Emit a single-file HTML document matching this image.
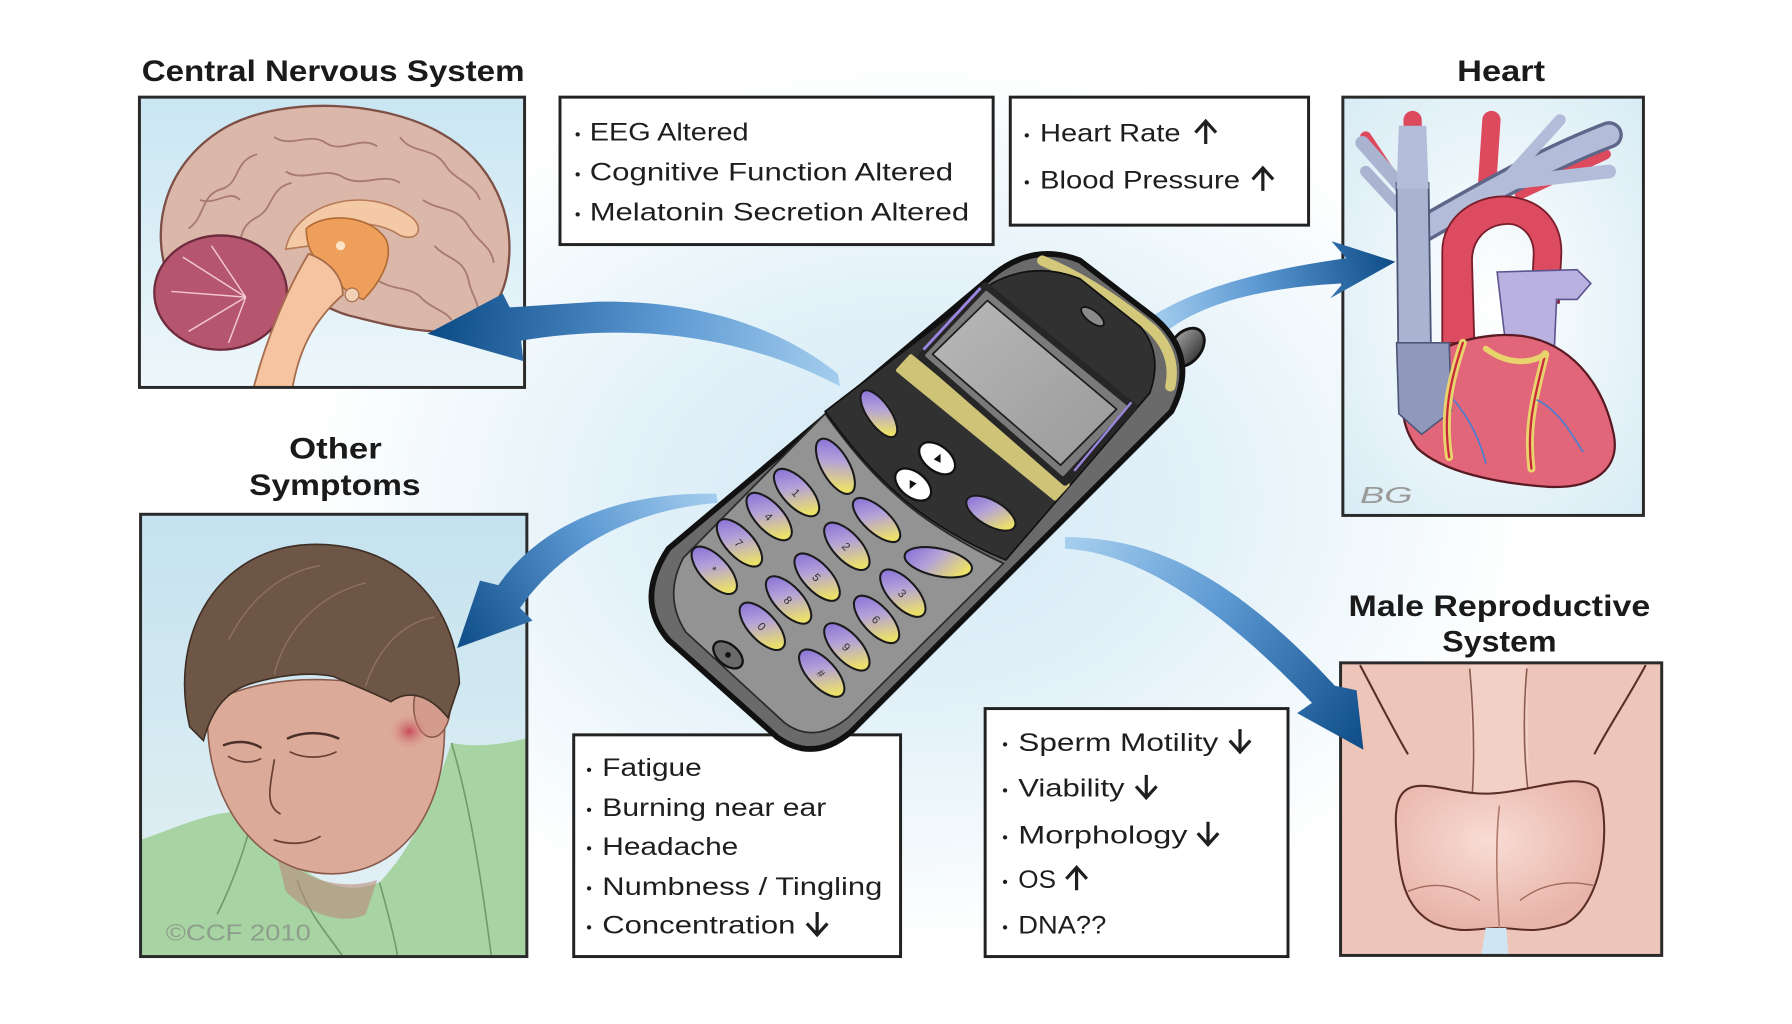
<!DOCTYPE html>
<html><head><meta charset="utf-8">
<style>
html,body{margin:0;padding:0;background:#fff;}
svg{display:block}
text{font-family:"Liberation Sans","DejaVu Sans",sans-serif;}
.t{font-size:22px;fill:#1e1e1e;}
.h{font-size:26px;font-weight:bold;fill:#1a1a1a;}
.b{font-size:14px;fill:#1e1e1e;}
.arw{fill:none;stroke:#1e1e1e;stroke-width:2.8;stroke-linecap:butt;stroke-linejoin:miter;}
.box{fill:#fff;stroke:#222;stroke-width:2.6;}
.frame{fill:none;stroke:#2a2a2a;stroke-width:2.6;}
.key{fill:url(#kg);stroke:#1a1a1a;stroke-width:1.8;}
.kn{font-size:10px;fill:#333;}
</style></head><body>
<svg width="1792" height="1024" viewBox="0 0 1568 896" xmlns="http://www.w3.org/2000/svg">
<defs>
<radialGradient id="bg" gradientUnits="userSpaceOnUse" cx="800" cy="440" r="540" gradientTransform="translate(800 440) scale(1 0.72) translate(-800 -440)">
<stop offset="0" stop-color="#d2e8f5"/>
<stop offset="0.5" stop-color="#e4f2f9"/>
<stop offset="1" stop-color="#ffffff"/>
</radialGradient>
<linearGradient id="a1" gradientUnits="userSpaceOnUse" x1="735" y1="330" x2="380" y2="290">
<stop offset="0" stop-color="#a4cdee"/><stop offset="0.45" stop-color="#5b98d2"/><stop offset="1" stop-color="#0e4c88"/></linearGradient>
<linearGradient id="a2" gradientUnits="userSpaceOnUse" x1="1010" y1="285" x2="1220" y2="229">
<stop offset="0" stop-color="#a4cdee"/><stop offset="0.45" stop-color="#5b98d2"/><stop offset="1" stop-color="#0e4c88"/></linearGradient>
<linearGradient id="a3" gradientUnits="userSpaceOnUse" x1="628" y1="436" x2="400" y2="567">
<stop offset="0" stop-color="#a4cdee"/><stop offset="0.45" stop-color="#5b98d2"/><stop offset="1" stop-color="#0e4c88"/></linearGradient>
<linearGradient id="a4" gradientUnits="userSpaceOnUse" x1="935" y1="476" x2="1193" y2="656">
<stop offset="0" stop-color="#a4cdee"/><stop offset="0.45" stop-color="#5b98d2"/><stop offset="1" stop-color="#0e4c88"/></linearGradient>
<linearGradient id="kg" x1="0" y1="0" x2="1" y2="0.3">
<stop offset="0" stop-color="#7e66d8"/><stop offset="0.5" stop-color="#b4a2d8"/><stop offset="1" stop-color="#ebe06a"/></linearGradient>
<linearGradient id="brainbg" x1="0" y1="0" x2="0" y2="1">
<stop offset="0" stop-color="#c9e6f2"/><stop offset="1" stop-color="#eef7fb"/></linearGradient>
<linearGradient id="manbg" x1="0" y1="0" x2="0" y2="1">
<stop offset="0" stop-color="#c4e2ef"/><stop offset="1" stop-color="#e6f2f4"/></linearGradient>
<radialGradient id="heartbg" cx="0.5" cy="0.5" r="0.7">
<stop offset="0" stop-color="#ffffff"/><stop offset="1" stop-color="#d8ecf5"/></radialGradient>
<radialGradient id="cheek" cx="0.5" cy="0.5" r="0.5">
<stop offset="0" stop-color="#c8485a"/><stop offset="1" stop-color="#d99c8e" stop-opacity="0"/></radialGradient>
<linearGradient id="scr" x1="0" y1="0" x2="1" y2="1">
<stop offset="0" stop-color="#b8b8b8"/><stop offset="1" stop-color="#9a9a9a"/></linearGradient>
<linearGradient id="ant" x1="0" y1="0" x2="1" y2="0">
<stop offset="0" stop-color="#9a9a9a"/><stop offset="1" stop-color="#3c3c3c"/></linearGradient>
<radialGradient id="scrot" cx="0.45" cy="0.4" r="0.6">
<stop offset="0" stop-color="#f8dcd4"/><stop offset="1" stop-color="#e8b3a8"/></radialGradient>
</defs>

<rect x="0" y="0" width="1568" height="896" fill="#fff"/>
<rect x="0" y="0" width="1568" height="896" fill="url(#bg)"/>

<!-- Titles -->
<text class="h" x="124" y="71" textLength="335" lengthAdjust="spacingAndGlyphs">Central Nervous System</text>
<text class="h" x="1275" y="71" textLength="77" lengthAdjust="spacingAndGlyphs">Heart</text>
<text class="h" x="253" y="401" textLength="81" lengthAdjust="spacingAndGlyphs">Other</text>
<text class="h" x="218" y="433" textLength="150" lengthAdjust="spacingAndGlyphs">Symptoms</text>
<text class="h" x="1180" y="539" textLength="264" lengthAdjust="spacingAndGlyphs">Male Reproductive</text>
<text class="h" x="1262" y="570" textLength="100" lengthAdjust="spacingAndGlyphs">System</text>

<!-- ===== Brain box ===== -->
<g>
<rect x="122" y="85" width="337" height="254" fill="url(#brainbg)"/>
<path d="M150,250 C128,200 145,140 200,110 C250,84 335,88 385,116 C432,142 452,190 444,238 C438,275 410,292 380,290 C350,288 330,282 305,276 C290,272 275,262 262,258 C230,255 200,252 172,262 Z" fill="#dbb7a9" stroke="#7d4f45" stroke-width="2"/>
<g fill="none" stroke="#a87a70" stroke-width="1.6">
<path d="M165,200 C180,190 175,170 195,165 C210,160 205,140 225,135"/>
<path d="M200,230 C215,215 205,200 225,190 C240,182 235,165 255,160"/>
<path d="M240,120 C255,130 270,115 285,125 C300,135 315,118 330,128"/>
<path d="M250,150 C265,160 285,145 300,155 C318,165 335,150 350,160"/>
<path d="M350,120 C360,135 380,128 390,145 C398,158 415,160 420,175"/>
<path d="M370,175 C385,185 400,180 410,198 C418,212 430,215 432,230"/>
<path d="M380,215 C392,228 405,225 410,245 C412,258 420,265 418,275"/>
<path d="M330,245 C345,255 360,250 370,262 C378,270 390,272 395,280"/>
<path d="M175,175 C190,180 200,165 210,175"/>
</g>
<path d="M250,218 C258,178 320,160 360,190 C372,200 365,212 350,206 C330,192 290,190 272,215 Z" fill="#f4caa6" stroke="#b77a55" stroke-width="1.4"/>
<path d="M268,200 C285,185 325,188 338,210 C345,228 330,250 318,262 C305,258 295,248 290,238 C278,232 268,220 268,200 Z" fill="#eea05a" stroke="#b06a35" stroke-width="1.4"/>
<circle cx="298" cy="215" r="4" fill="#fbe3c8"/>
<ellipse cx="193" cy="256" rx="58" ry="50" fill="#b5566e" stroke="#6f2b3e" stroke-width="2"/>
<g stroke="#f1c6d2" stroke-width="1.3" fill="none">
<path d="M215,260 L160,225 M215,260 L150,255 M215,260 L165,290 M215,260 L200,300 M215,260 L185,215"/>
</g>
<path d="M270,222 C250,255 232,300 222,339 L256,339 C262,305 275,280 300,258 C300,245 292,230 270,222 Z" fill="#f6c4a0" stroke="#a66c4c" stroke-width="1.6"/>
<circle cx="308" cy="258" r="6" fill="#f2d0b8" stroke="#a66c4c" stroke-width="1"/>
<rect x="122" y="85" width="337" height="254" class="frame"/>
</g>

<!-- ===== EEG box ===== -->
<rect class="box" x="490" y="85" width="379" height="129"/>
<text class="b" x="503" y="122">•</text>
<text class="t" x="516" y="123" textLength="139" lengthAdjust="spacingAndGlyphs">EEG Altered</text>
<text class="b" x="503" y="157">•</text>
<text class="t" x="516" y="158" textLength="318" lengthAdjust="spacingAndGlyphs">Cognitive Function Altered</text>
<text class="b" x="503" y="192">•</text>
<text class="t" x="516" y="193" textLength="332" lengthAdjust="spacingAndGlyphs">Melatonin Secretion Altered</text>

<!-- ===== Heart text box ===== -->
<rect class="box" x="884" y="85" width="261" height="112"/>
<text class="b" x="896" y="123">•</text>
<text class="t" x="910" y="124" textLength="123" lengthAdjust="spacingAndGlyphs">Heart Rate</text>
<path class="arw" d="M1055,126 L1055,106 M1046,116 L1055,106 L1064,116"/>
<text class="b" x="896" y="164">•</text>
<text class="t" x="910" y="165" textLength="175" lengthAdjust="spacingAndGlyphs">Blood Pressure</text>
<path class="arw" d="M1105,167 L1105,147 M1096,157 L1105,147 L1114,157"/>

<!-- ===== Heart image ===== -->
<g>
<rect x="1175" y="85" width="263" height="366" fill="url(#heartbg)"/>
<g stroke-linecap="round" fill="none">
<path d="M1215,150 L1195,120" stroke="#dd4a5e" stroke-width="10"/>
<path d="M1238,190 L1236,105" stroke="#dd4a5e" stroke-width="16"/>
<path d="M1300,180 L1305,105" stroke="#dd4a5e" stroke-width="16"/>
<path d="M1330,170 L1405,135" stroke="#dd4a5e" stroke-width="9"/>
<path d="M1232,170 L1192,125" stroke="#aab4d0" stroke-width="12"/>
<path d="M1232,190 L1195,150" stroke="#aab4d0" stroke-width="10"/>
<path d="M1246,200 C1290,175 1350,140 1408,118" stroke="#5e6689" stroke-width="24"/>
<path d="M1246,200 C1290,175 1350,140 1408,118" stroke="#b3bcd8" stroke-width="18"/>
<path d="M1320,160 L1408,150" stroke="#b3bcd8" stroke-width="12"/>
<path d="M1320,155 L1365,105" stroke="#b3bcd8" stroke-width="10"/>
</g>
<path d="M1222,160 L1250,160 L1252,300 L1266,300 L1268,365 L1240,378 L1224,360 Z" fill="#aab4d0" stroke="#4e5678" stroke-width="1.6"/>
<path d="M1224,110 L1248,110 L1250,165 L1222,165 Z" fill="#b3bcd8"/>
<path d="M1262,300 L1262,220 C1262,190 1290,170 1320,172 C1350,175 1368,195 1366,225 L1364,265 L1340,265 L1342,222 C1342,205 1330,195 1318,196 C1300,197 1288,210 1288,228 L1290,300 Z" fill="#dc4b60" stroke="#7a1e2c" stroke-width="1.6"/>
<path d="M1310,238 L1380,236 L1392,248 L1380,262 L1362,262 L1360,306 L1318,306 Z" fill="#b9b1e0" stroke="#5c5490" stroke-width="1.4"/>
<path d="M1232,330 C1252,300 1300,290 1332,294 C1372,300 1402,332 1412,380 C1418,410 1395,428 1355,426 C1310,423 1262,413 1240,392 C1226,374 1224,350 1232,330 Z" fill="#e2667a" stroke="#5a1a24" stroke-width="2"/>
<path d="M1222,300 L1268,300 L1270,360 L1244,380 L1224,362 Z" fill="#9099bb" stroke="#4e5678" stroke-width="1.4"/>
<g fill="none" stroke-linecap="round">
<path d="M1280,300 C1270,330 1262,360 1268,400" stroke="#e9d36c" stroke-width="7"/>
<path d="M1280,300 C1270,330 1262,360 1268,400" stroke="#c8283a" stroke-width="2"/>
<path d="M1352,310 C1345,340 1335,370 1340,410" stroke="#e9d36c" stroke-width="7"/>
<path d="M1352,310 C1345,340 1335,370 1340,410" stroke="#c8283a" stroke-width="2"/>
<path d="M1300,305 C1320,320 1340,318 1352,310" stroke="#e9d36c" stroke-width="5"/>
<path d="M1345,350 C1365,360 1375,380 1385,395" stroke="#4a7fd0" stroke-width="1.5"/>
<path d="M1272,350 C1285,365 1295,385 1300,405" stroke="#4a7fd0" stroke-width="1.5"/>
</g>
<text x="1190" y="440" font-size="20" font-style="italic" fill="#9a9a9a" textLength="46" lengthAdjust="spacingAndGlyphs">BG</text>
<rect x="1175" y="85" width="263" height="366" class="frame"/>
</g>

<!-- ===== Man box ===== -->
<g>
<rect x="123" y="450" width="338" height="387" fill="url(#manbg)"/>
<path d="M123,735 C160,722 195,705 222,712 C250,755 290,790 332,772 C362,742 380,695 395,650 C420,655 445,650 461,646 L461,837 L123,837 Z" fill="#a8d3a2"/>
<g fill="none" stroke="#6f9a6c" stroke-width="1.4">
<path d="M222,712 C215,740 205,770 190,800"/>
<path d="M332,772 C340,800 345,820 348,837"/>
<path d="M260,770 C270,800 285,815 300,837"/>
<path d="M395,650 C410,700 420,760 430,837"/>
</g>
<path d="M240,740 C260,770 300,780 330,770 L320,800 C300,810 270,800 250,780 Z" fill="#b98a7c" opacity="0.6"/>
<path d="M182,618 C178,680 205,740 260,760 C300,772 340,760 365,725 C385,695 392,660 388,608 C360,600 320,597 290,595 C250,593 205,600 182,618 Z" fill="#dcaa98" stroke="#8a5a4c" stroke-width="1.4"/>
<ellipse cx="378" cy="618" rx="16" ry="27" fill="#d49c8c" stroke="#8a5a4c" stroke-width="1.4"/>
<ellipse cx="358" cy="640" rx="18" ry="16" fill="url(#cheek)"/>
<path d="M166,636 C148,560 185,486 262,477 C332,470 398,512 402,598 L392,628 C374,606 356,604 342,614 C322,604 305,598 292,592 C268,587 240,592 220,598 C200,604 186,618 178,648 Z" fill="#6e5646" stroke="#3e2e24" stroke-width="1.4"/>
<g fill="none" stroke="#8d7262" stroke-width="1.2">
<path d="M200,560 C220,520 250,500 280,495"/>
<path d="M240,590 C250,550 280,520 320,510"/>
<path d="M320,600 C330,570 350,545 380,540"/>
</g>
<g fill="none" stroke="#4a3028" stroke-width="2.2" stroke-linecap="round">
<path d="M196,652 C205,648 218,648 228,654"/>
<path d="M252,646 C265,640 282,640 296,646"/>
</g>
<g fill="none" stroke="#6a4034" stroke-width="1.5" stroke-linecap="round">
<path d="M200,662 C210,668 220,668 228,664"/>
<path d="M254,658 C266,664 282,664 294,658"/>
<path d="M240,665 C236,690 232,705 245,712"/>
<path d="M240,735 C255,740 270,738 280,732"/>
</g>
<text x="145" y="823" font-size="20" fill="#8e9e8c" textLength="127" lengthAdjust="spacingAndGlyphs">©CCF 2010</text>
<rect x="123" y="450" width="338" height="387" class="frame"/>
</g>

<!-- ===== Fatigue box ===== -->
<rect class="box" x="502" y="643" width="286" height="194"/>
<text class="b" x="513" y="678">•</text>
<text class="t" x="527" y="679" textLength="87" lengthAdjust="spacingAndGlyphs">Fatigue</text>
<text class="b" x="513" y="713">•</text>
<text class="t" x="527" y="714" textLength="196" lengthAdjust="spacingAndGlyphs">Burning near ear</text>
<text class="b" x="513" y="747">•</text>
<text class="t" x="527" y="748" textLength="119" lengthAdjust="spacingAndGlyphs">Headache</text>
<text class="b" x="513" y="782">•</text>
<text class="t" x="527" y="783" textLength="245" lengthAdjust="spacingAndGlyphs">Numbness / Tingling</text>
<text class="b" x="513" y="816">•</text>
<text class="t" x="527" y="817" textLength="169" lengthAdjust="spacingAndGlyphs">Concentration</text>
<path class="arw" d="M715,798 L715,818 M706,808 L715,818 L724,808"/>

<!-- ===== Sperm box ===== -->
<rect class="box" x="862" y="620" width="265" height="217"/>
<text class="b" x="877" y="656">•</text>
<text class="t" x="891" y="657" textLength="175" lengthAdjust="spacingAndGlyphs">Sperm Motility</text>
<path class="arw" d="M1085,638 L1085,658 M1076,648 L1085,658 L1094,648"/>
<text class="b" x="877" y="696">•</text>
<text class="t" x="891" y="697" textLength="93" lengthAdjust="spacingAndGlyphs">Viability</text>
<path class="arw" d="M1003,678 L1003,698 M994,688 L1003,698 L1012,688"/>
<text class="b" x="877" y="737">•</text>
<text class="t" x="891" y="738" textLength="148" lengthAdjust="spacingAndGlyphs">Morphology</text>
<path class="arw" d="M1057,719 L1057,739 M1048,729 L1057,739 L1066,729"/>
<text class="b" x="877" y="776">•</text>
<text class="t" x="891" y="777" textLength="33" lengthAdjust="spacingAndGlyphs">OS</text>
<path class="arw" d="M942,779 L942,759 M933,769 L942,759 L951,769"/>
<text class="b" x="877" y="816">•</text>
<text class="t" x="891" y="817" textLength="77" lengthAdjust="spacingAndGlyphs">DNA??</text>

<!-- ===== Male repro image ===== -->
<g>
<rect x="1173" y="580" width="281" height="256" fill="#eec5b9"/>
<path d="M1190,582 C1205,610 1220,640 1232,660 M1440,582 C1425,610 1405,640 1395,660" fill="none" stroke="#5a2e26" stroke-width="1.8"/>
<path d="M1286,582 L1288,700 L1338,700 L1336,582 Z" fill="#f2d0c5"/>
<path d="M1286,585 C1290,630 1290,670 1288,700 M1336,585 C1332,630 1334,670 1338,700" fill="none" stroke="#8a5a4e" stroke-width="1.4"/>
<path d="M1222,730 C1216,670 1250,690 1290,694 C1330,698 1380,672 1398,690 C1410,720 1404,790 1370,808 C1340,818 1330,812 1312,812 C1290,812 1280,818 1255,808 C1228,795 1224,765 1222,730 Z" fill="url(#scrot)" stroke="#5a2e26" stroke-width="1.8"/>
<path d="M1312,705 C1308,740 1310,780 1312,812" fill="none" stroke="#b07a6c" stroke-width="1.4"/>
<path d="M1232,780 C1255,770 1275,775 1295,788 M1330,788 C1350,772 1375,770 1395,775" fill="none" stroke="#a0685a" stroke-width="1.2"/>
<path d="M1300,812 L1296,836 L1320,836 L1318,812 Z" fill="#cfe6f2"/>
<rect x="1173" y="580" width="281" height="256" class="frame"/>
</g>

<!-- ===== Arrows (over images) ===== -->
<path d="M733,327 C690,292 620,262 522,264 L446,269 L440,257 L374,292 L458,316 L456,298 C540,284 640,288 735,338 Z" fill="url(#a1)"/>
<path d="M1006,278 C1040,256 1092,238 1178,226 L1165,211 L1221,229 L1164,261 L1175,248 C1100,252 1050,266 1018,292 Z" fill="url(#a2)"/>
<path d="M627,432 C540,430 472,460 436,512 L420,508 L400,567 L466,543 L455,532 C490,482 550,446 628,440 Z" fill="url(#a3)"/>
<path d="M932,470 C1010,470 1080,505 1168,600 L1187,604 L1193,656 L1135,624 L1148,615 C1090,555 1010,484 932,480 Z" fill="url(#a4)"/>

<!-- ===== Phone ===== -->
<g>
<ellipse cx="1038" cy="304" rx="13" ry="19" transform="rotate(40 1038 304)" fill="url(#ant)" stroke="#111" stroke-width="2.5"/>
<path d="M585,480 L870,240 Q905,212 945,228 L1010,278 Q1050,312 1025,360 L745,640 Q712,668 680,645 L585,560 Q555,525 585,480 Z" fill="#6a6a6a" stroke="#111" stroke-width="5"/>
<path d="M912,228 Q960,248 1008,288 Q1030,310 1024,338" fill="none" stroke="#d4c97a" stroke-width="9" stroke-linecap="round"/>
<path d="M598,488 L722,362 C740,387 760,412 785,434 C810,457 850,480 878,493 L742,628 Q712,652 686,632 L600,553 Q580,522 598,488 Z" fill="#939393" stroke="#2a2a2a" stroke-width="1.5"/>
<path d="M722,360 L868,248 Q905,228 945,244 L998,286 Q1018,310 1006,344 L880,490 C850,478 810,455 785,432 C760,410 740,385 722,360 Z" fill="#313131" stroke="#111" stroke-width="1.5"/>
<path d="M786,324 L797,312 L934,424 L923,436 Z" fill="#cfc378" stroke="#cfc378" stroke-width="4" stroke-linejoin="round"/>
<path d="M806,312 L862,250 L992,356 L932,422 Z" fill="#262626" stroke="#262626" stroke-width="6" stroke-linejoin="round"/>
<path d="M811,311 L863,256 L985,356 L930,415 Z" fill="#7a7a7a" stroke="#7a7a7a" stroke-width="3" stroke-linejoin="round"/>
<path d="M816,310 L864,263 L977,358 L928,407 Z" fill="url(#scr)" stroke="#1c1c1c" stroke-width="1.5" stroke-linejoin="round"/>
<path d="M808,306 L858,252" stroke="#9a86e0" stroke-width="2.5" fill="none"/>
<path d="M990,352 L940,412" stroke="#9a86e0" stroke-width="2" fill="none"/>
<ellipse cx="956" cy="277" rx="12" ry="5" transform="rotate(38 956 277)" fill="#8a8a8a" stroke="#111" stroke-width="1.5"/>
<ellipse class="key" cx="769" cy="362" rx="24" ry="10" transform="rotate(55 769 362)"/>
<ellipse class="key" cx="867" cy="449" rx="24" ry="11" transform="rotate(30 867 449)"/>
<ellipse cx="820" cy="401" rx="18" ry="11" transform="rotate(38 820 401)" fill="#fff" stroke="#111" stroke-width="2"/>
<ellipse cx="799" cy="424" rx="18" ry="11" transform="rotate(38 799 424)" fill="#fff" stroke="#111" stroke-width="2"/>
<path d="M817,402 L823,397 L823,405 Z" fill="#111"/>
<path d="M802,423 L796,428 L796,420 Z" fill="#111"/>
<ellipse class="key" cx="731" cy="408" rx="27" ry="12" transform="rotate(60 731 408)"/>
<ellipse class="key" cx="767" cy="455" rx="26" ry="11" transform="rotate(42 767 455)"/>
<ellipse class="key" cx="821" cy="492" rx="30" ry="12" transform="rotate(12 821 492)"/>
<ellipse class="key" cx="697" cy="431" rx="26" ry="12" transform="rotate(47 697 431)"/>
<ellipse class="key" cx="673" cy="452" rx="26" ry="12" transform="rotate(47 673 452)"/>
<ellipse class="key" cx="647" cy="475" rx="26" ry="12" transform="rotate(47 647 475)"/>
<ellipse class="key" cx="625" cy="499" rx="26" ry="12" transform="rotate(47 625 499)"/>
<ellipse class="key" cx="741" cy="478" rx="26" ry="12" transform="rotate(47 741 478)"/>
<ellipse class="key" cx="715" cy="505" rx="26" ry="12" transform="rotate(47 715 505)"/>
<ellipse class="key" cx="690" cy="525" rx="26" ry="12" transform="rotate(47 690 525)"/>
<ellipse class="key" cx="667" cy="548" rx="26" ry="12" transform="rotate(47 667 548)"/>
<ellipse class="key" cx="790" cy="519" rx="26" ry="12" transform="rotate(47 790 519)"/>
<ellipse class="key" cx="767" cy="542" rx="26" ry="12" transform="rotate(47 767 542)"/>
<ellipse class="key" cx="741" cy="566" rx="26" ry="12" transform="rotate(47 741 566)"/>
<ellipse class="key" cx="719" cy="589" rx="26" ry="12" transform="rotate(47 719 589)"/>
<g>
<text class="kn" x="694" y="435" transform="rotate(47 697 431)">1</text>
<text class="kn" x="670" y="456" transform="rotate(47 673 452)">4</text>
<text class="kn" x="644" y="479" transform="rotate(47 647 475)">7</text>
<text class="kn" x="622" y="503" transform="rotate(47 625 499)">*</text>
<text class="kn" x="738" y="482" transform="rotate(47 741 478)">2</text>
<text class="kn" x="712" y="509" transform="rotate(47 715 505)">5</text>
<text class="kn" x="687" y="529" transform="rotate(47 690 525)">8</text>
<text class="kn" x="664" y="552" transform="rotate(47 667 548)">0</text>
<text class="kn" x="787" y="523" transform="rotate(47 790 519)">3</text>
<text class="kn" x="764" y="546" transform="rotate(47 767 542)">6</text>
<text class="kn" x="738" y="570" transform="rotate(47 741 566)">9</text>
<text class="kn" x="716" y="593" transform="rotate(47 719 589)">#</text>
</g>
<ellipse cx="637" cy="573" rx="15" ry="9" transform="rotate(40 637 573)" fill="#6a6a6a" stroke="#111" stroke-width="2"/>
<circle cx="637" cy="573" r="2.5" fill="#111"/>
</g>
</svg>
</body></html>
